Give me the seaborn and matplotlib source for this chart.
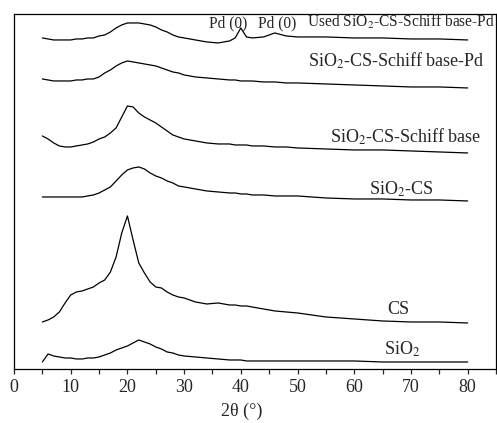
import pandas as pd
import seaborn as sns
import matplotlib.pyplot as plt
from matplotlib.ticker import MultipleLocator

# 2-theta grid (degrees)
two_theta = [5, 6, 7, 8, 9, 10, 11, 12, 13, 14, 15, 16, 17, 18, 19, 20,
             21, 22, 23, 24, 25, 26, 27, 28, 29, 30, 32, 34, 36, 38, 39,
             40, 41, 42, 44, 46, 48, 50, 55, 60, 65, 70, 75, 80]

# intensities (stacked, arbitrary units)
sio2 = [7, 15, 13, 12, 11, 11, 10, 10, 11, 11, 12, 14, 16, 19, 21, 23,
        26, 29, 27, 25, 22, 20, 17, 16, 14, 13, 12, 11, 10, 9, 9,
        9, 8, 8, 8, 8, 8, 8, 8, 8, 7, 7, 7, 7]
cs = [47, 49, 52, 57, 66, 74, 77, 78, 80, 82, 86, 89, 97, 112, 136, 153,
      129, 106, 96, 87, 82, 81, 77, 74, 72, 71, 67, 65, 66, 64, 64,
      63, 63, 62, 60, 58, 57, 56, 52, 50, 48, 47, 47, 46]
sio2_cs = [172, 172, 172, 172, 172, 172, 172, 172, 173, 174, 176, 179, 182, 188, 194, 199,
           201, 202, 200, 196, 193, 191, 188, 186, 183, 182, 180, 178, 177, 176, 176,
           175, 175, 174, 174, 173, 173, 173, 171, 170, 170, 169, 169, 168]
schiff = [233, 230, 226, 223, 222, 222, 223, 224, 225, 227, 230, 232, 236, 241, 252, 263,
          262, 256, 252, 249, 246, 242, 238, 234, 232, 230, 228, 226, 225, 225, 224,
          224, 224, 223, 223, 222, 222, 221, 220, 219, 219, 218, 217, 216]
schiff_pd = [290, 289, 288, 288, 288, 288, 289, 289, 290, 290, 292, 296, 299, 303, 306, 308,
             307, 306, 305, 304, 303, 301, 299, 297, 296, 294, 292, 291, 290, 289, 289,
             288, 288, 288, 287, 287, 286, 286, 285, 284, 283, 282, 282, 281]
used_pd = [331, 330, 329, 329, 329, 329, 330, 330, 331, 331, 333, 334, 337, 341, 344, 346,
           346, 346, 345, 344, 342, 339, 337, 334, 332, 331, 329, 327, 326, 328, 331,
           341, 332, 331, 332, 336, 333, 332, 332, 331, 331, 330, 330, 329]

series = [sio2, cs, sio2_cs, schiff, schiff_pd, used_pd]

sns.set_style("ticks")
plt.rcParams['font.family'] = ['Liberation Serif', 'DejaVu Serif']
plt.rcParams['mathtext.fontset'] = 'stix'

fig = plt.figure(figsize=(4.97, 4.23), dpi=100)
ax = fig.add_axes([0.0282, 0.1277, 0.9698, 0.8393])

for ys in series:
    sns.lineplot(x=two_theta, y=ys, ax=ax, color='black', linewidth=0.9)

ax.set_xlim(0, 85)
ax.set_ylim(0, 355)
ax.set_yticks([])
ax.xaxis.set_major_locator(MultipleLocator(10))
ax.xaxis.set_minor_locator(MultipleLocator(5))
ax.set_xticks(range(0, 81, 10))
ax.tick_params(axis='x', which='both', direction='out', length=3.5, width=0.9,
               labelsize=13, pad=4, top=False)
for sp in ax.spines.values():
    sp.set_linewidth(0.9)
    sp.set_color('black')

ax.set_xlabel('2θ (°)', fontsize=13)
ax.xaxis.set_label_coords(0.473, -0.095)

fs = 13
top_fs = 11.2
ax.text(37.8, 342, 'Pd (0)', fontsize=top_fs, ha='center', va='baseline')
ax.text(46.4, 342, 'Pd (0)', fontsize=top_fs, ha='center', va='baseline')
ax.text(51.7, 342, 'Used SiO$_2$-CS-Schiff base-Pd', fontsize=top_fs, ha='left', va='baseline')
ax.text(83.0, 302, 'SiO$_2$-CS-Schiff base-Pd', fontsize=fs, ha='right', va='baseline')
ax.text(82.5, 226, 'SiO$_2$-CS-Schiff base', fontsize=fs, ha='right', va='baseline')
ax.text(68.2, 174, 'SiO$_2$-CS', fontsize=fs, ha='center', va='baseline')
ax.text(67.7, 55, 'CS', fontsize=fs, ha='center', va='baseline')
ax.text(68.4, 14, 'SiO$_2$', fontsize=fs, ha='center', va='baseline')

fig.savefig('out.png', dpi=100)
